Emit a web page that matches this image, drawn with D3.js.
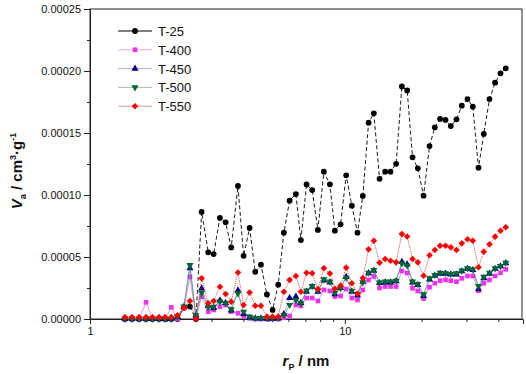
<!DOCTYPE html>
<html>
<head>
<meta charset="utf-8">
<script src="https://cdn.jsdelivr.net/npm/d3@7"></script>
<style>
  body { margin: 0; background: #fff; }
  text { font-family: Arial, "Liberation Sans", sans-serif; }
</style>
</head>
<body>
<div id="chart"></div>
<script>
// DATA //
// pore radius (nm)
const rp = [1.371, 1.461, 1.557, 1.659, 1.758, 1.865, 1.969, 2.084, 2.204, 2.337, 2.467, 2.604,
  2.742, 2.910, 3.056, 3.234, 3.405, 3.582, 3.806, 4.006, 4.229, 4.449, 4.684, 4.945, 5.206, 5.476,
  5.764, 6.070, 6.425, 6.721, 7.076, 7.443, 7.836, 8.273, 8.734, 9.137, 9.620, 10.12, 10.65, 11.21,
  11.76, 12.39, 12.99, 13.68, 14.39, 15.11, 15.89, 16.74, 17.56, 18.43, 19.33, 20.36, 21.49, 22.54,
  23.64, 24.83, 26.04, 27.42, 28.76, 30.28, 31.77, 33.44, 35.08, 36.94, 38.86, 40.80, 42.79];

// Va values in units of 1e-5 cm3/g
const t25 = [0, 0, 0, 0, 0, 0, 0, 0, 0, 0.9, 1.0, 0,
  8.63, 5.38, 5.24, 8.15, 7.80, 5.77, 10.73, 5.10, 7.34, 3.81, 4.38, 1.98, 0.73, 2.77, 6.96, 9.54,
  10.08, 6.37, 10.85, 10.40, 7.18, 11.88, 10.86, 7.12, 7.64, 11.59, 9.14, 6.96, 9.92, 15.83, 16.59,
  11.31, 11.88, 11.88, 12.52, 18.75, 18.43, 13.04, 12.15, 9.94, 13.95, 15.46, 16.13, 16.05, 15.56,
  16.10, 17.20, 17.74, 17.12, 12.20, 14.92, 17.74, 19.06, 19.81, 20.22];
const t400 = [0, 0, 0, 1.35, 0, 0, 0, 0.94, 0, 0.9, 3.4, 0.1,
  1.80, 0.59, 0.73, 0.99, 1.13, 0.59, 0.46, 0.24, 0.06, 0, 0, 0, 0, 0, 0.1, 0.24, 1.13, 1.05, 1.69,
  1.69, 1.45, 2.34, 2.26, 1.81, 1.85, 2.42, 1.69, 1.53, 2.34, 3.15, 3.43, 2.50, 2.62, 2.62, 2.62,
  3.87, 3.71, 2.48, 2.26, 1.65, 2.56, 2.88, 3.09, 3.15, 3.09, 3.01, 3.28, 3.47, 3.47, 2.28, 2.88,
  3.15, 3.47, 3.73, 4.01];
const t450 = [0, 0, 0, 0, 0, 0, 0, 0, 0.2, 1.0, 4.1, 0.3,
  2.47, 1.05, 0.9, 1.5, 1.3, 0.7, 2.3, 0.4, 0.1, 0.05, 0.05, 0.03, 0.03, 0.05, 0.4, 1.7, 1.8, 1.3,
  2.2, 2.6, 2.2, 3.1, 2.95, 2.0, 2.5, 3.4, 2.2, 1.9, 3.0, 3.7, 3.9, 2.9, 2.95, 2.95, 3.05, 4.6, 4.4,
  2.95, 2.75, 1.85, 3.2, 3.5, 3.65, 3.65, 3.6, 3.6, 3.85, 4.05, 3.95, 2.4, 3.3, 3.65, 4.05, 4.25, 4.5];
const t500 = [0, 0, 0, 0, 0, 0, 0, 0, 0.2, 1.0, 4.35, 0.3,
  2.12, 0.94, 0.99, 1.40, 1.27, 0.78, 2.07, 0.59, 0.19, 0.08, 0.08, 0.06, 0.04, 0.08, 0.32, 1.13,
  1.53, 1.27, 2.30, 2.66, 2.28, 3.20, 3.01, 2.12, 2.48, 3.33, 2.28, 2.02, 2.96, 3.73, 3.95, 2.93,
  3.01, 3.01, 3.09, 4.48, 4.31, 3.01, 2.82, 1.99, 3.28, 3.55, 3.73, 3.69, 3.63, 3.69, 3.90, 4.09,
  4.01, 2.66, 3.41, 3.73, 4.09, 4.27, 4.54];
const t550 = [0.15, 0.15, 0.15, 0.15, 0.15, 0.15, 0.15, 0.15, 0.3, 0.9, 1.45, 0,
  3.28, 1.27, 1.45, 2.60, 2.02, 1.40, 3.75, 1.13, 2.14, 1.07, 1.07, 0.19, 0.19, 0.19, 2.20, 3.15,
  3.47, 2.20, 3.73, 3.69, 2.42, 4.09, 3.67, 2.44, 2.69, 4.14, 2.88, 2.04, 3.31, 5.62, 6.31, 4.54,
  4.84, 4.70, 4.57, 6.85, 6.65, 4.84, 4.57, 3.49, 5.14, 5.56, 5.91, 5.91, 5.78, 5.56, 6.10, 6.43,
  6.31, 4.17, 5.43, 6.02, 6.64, 7.12, 7.40];

const names = ["T-25", "T-400", "T-450", "T-500", "T-550"];
const yTicks = [0, 5, 10, 15, 20, 25];
const yMinor = [2.5, 7.5, 12.5, 17.5, 22.5];
const xTicks = [1, 10];
const xMinor = [2, 3, 4, 5, 6, 7, 8, 9, 20, 30, 40];

// series styles (rot = marker rotation in degrees)
const styles = [
  {vals: t25,  color: "#000000", line: "#000000", dash: "4,2.5", lw: 0.9, sym: d3.symbolCircle,   size: 26, rot: 0},
  {vals: t400, color: "#ee33ee", line: "#dd55dd", dash: null,    lw: 0.6, sym: d3.symbolSquare,   size: 22, rot: 0},
  {vals: t450, color: "#000088", line: "#6666bb", dash: null,    lw: 0.5, sym: d3.symbolTriangle, size: 22, rot: 0},
  {vals: t500, color: "#006633", line: "#338855", dash: null,    lw: 0.6, sym: d3.symbolTriangle, size: 22, rot: 180},
  {vals: t550, color: "#ff0000", line: "#cc3333", dash: "1.2,1", lw: 0.8, sym: d3.symbolSquare,   size: 22, rot: 45}
];

// DIMENSIONS //
const W = 526, H = 374;
const svg = d3.select("#chart").append("svg")
  .attr("width", W).attr("height", H);

const x = d3.scaleLog().domain([1, 50]).range([90, 523]);
const y = d3.scaleLinear().domain([0, 25]).range([319, 9]);

// frame
svg.append("rect")
  .attr("x", 90).attr("y", 9)
  .attr("width", 432).attr("height", 310)
  .attr("fill", "none").attr("stroke", "#222").attr("stroke-width", 1);

// Y AXIS //
svg.append("g").attr("transform", "translate(90,0)")
  .call(d3.axisLeft(y).tickValues(yTicks).tickSize(6).tickPadding(3)
    .tickFormat(d => (d * 1e-5).toFixed(5)));
svg.append("g").attr("transform", "translate(90,0)")
  .call(d3.axisLeft(y).tickValues(yMinor).tickSize(3).tickFormat(""))
  .select(".domain").remove();

// X AXIS //
svg.append("g").attr("transform", "translate(0,319)")
  .call(d3.axisBottom(x).tickValues(xTicks).tickSize(5).tickPadding(3)
    .tickFormat(d3.format("d")));
svg.append("g").attr("transform", "translate(0,319)")
  .call(d3.axisBottom(x).tickValues(xMinor).tickSize(3).tickFormat(""))
  .select(".domain").remove();

svg.selectAll(".tick text").attr("font-size", 11).attr("fill", "#111")
  .attr("font-family", "Arial, 'Liberation Sans', sans-serif");
svg.selectAll(".tick line").attr("stroke", "#222");
svg.selectAll(".domain").attr("stroke", "#222");

// axis titles
const yt = svg.append("text")
  .attr("transform", "translate(22,171) rotate(-90)")
  .attr("text-anchor", "middle")
  .attr("font-size", 15).attr("font-weight", "bold").attr("fill", "#111");
yt.append("tspan").attr("font-style", "italic").text("V");
yt.append("tspan").attr("font-size", 9).attr("dy", 4).text("a");
yt.append("tspan").attr("dy", -4).text(" / cm");
yt.append("tspan").attr("font-size", 9).attr("dy", -6).text("3");
yt.append("tspan").attr("dy", 6).text("·g");
yt.append("tspan").attr("font-size", 9).attr("dy", -6).text("-1");

const xt = svg.append("text")
  .attr("transform", "translate(306,366)")
  .attr("text-anchor", "middle")
  .attr("font-size", 15).attr("font-weight", "bold").attr("fill", "#111");
xt.append("tspan").attr("font-style", "italic").text("r");
xt.append("tspan").attr("font-size", 9).attr("dy", 4).text("P");
xt.append("tspan").attr("dy", -4).text(" / nm");

// DRAW SERIES //
const line = d3.line().x((d, i) => x(rp[i])).y(d => y(d));

styles.forEach(s => {
  const g = svg.append("g");
  g.append("path")
    .datum(s.vals)
    .attr("d", line)
    .attr("fill", "none")
    .attr("stroke", s.line)
    .attr("stroke-width", s.lw)
    .attr("stroke-dasharray", s.dash);
  g.selectAll("path.pt")
    .data(s.vals)
    .enter()
    .append("path")
    .attr("class", "pt")
    .attr("d", d3.symbol().type(s.sym).size(s.size))
    .attr("transform", (d, i) => "translate(" + x(rp[i]) + "," + y(d) + ") rotate(" + s.rot + ")")
    .attr("fill", s.color);
});

// LEGEND //
const leg = svg.append("g");
names.forEach((n, i) => {
  const s = styles[i];
  const ly = 31 + i * 18.8;
  leg.append("line")
    .attr("x1", 118).attr("x2", 152).attr("y1", ly).attr("y2", ly)
    .attr("stroke", i == 0 ? "#000" : s.line)
    .attr("stroke-opacity", i == 0 ? 1 : 0.5)
    .attr("stroke-width", 1);
  leg.append("path")
    .attr("d", d3.symbol().type(s.sym).size(s.size))
    .attr("transform", "translate(135," + ly + ") rotate(" + s.rot + ")")
    .attr("fill", s.color);
  leg.append("text")
    .attr("x", 158).attr("y", ly + 5)
    .attr("font-size", 13).attr("fill", "#111")
    .text(n);
});
</script>
</body>
</html>
